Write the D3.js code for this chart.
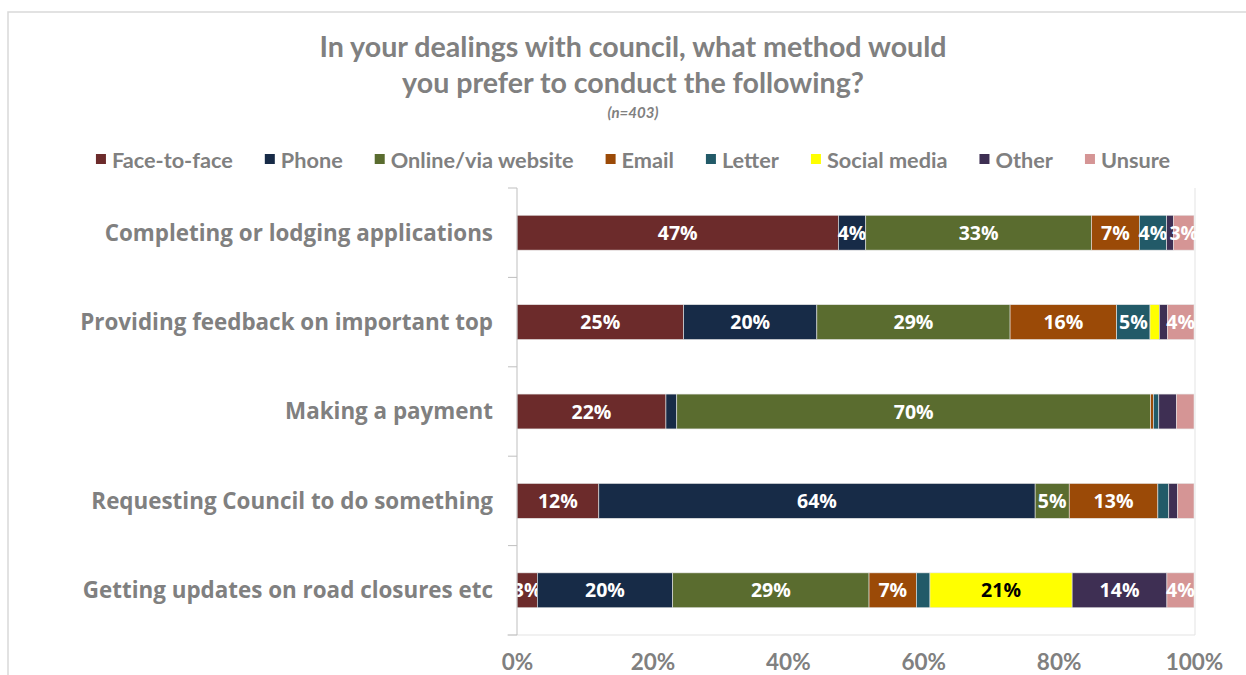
<!DOCTYPE html>
<html>
<head>
<meta charset="utf-8">
<script src="https://cdn.jsdelivr.net/npm/d3@7"></script>
<style>
  html, body { margin: 0; padding: 0; background: #fff; }
  svg { display: block; }
</style>
</head>
<body>
<svg id="chart" width="1246" height="675"></svg>
<script>
// Survey question and sample size
const titleLines = ["In your dealings with council, what method would", "you prefer to conduct the following?"];
const sampleNote = "(n=403)";

// Activities (one bar each)
const categories = [
  "Completing or lodging applications",
  "Providing feedback on important top",
  "Making a payment",
  "Requesting Council to do something",
  "Getting updates on road closures etc"
];

// Preferred method, % of respondents per activity
const seriesNames = ["Face-to-face", "Phone", "Online/via website", "Email", "Letter", "Social media", "Other", "Unsure"];
const faceToFace  = [47, 25, 22,  12,  3];
const phone       = [ 4, 20, 1.6, 64, 20];
const online      = [33, 29, 70,   5, 29];
const email       = [ 7, 16, 0.4, 13,  7];
const letter      = [ 4,  5, 0.8, 1.6, 2];
const socialMedia = [ 0, 1.4, 0,   0, 21];
const other       = [ 1, 1.2, 2.6, 1.3, 14];
const unsure      = [ 3,  4, 2.6, 2.4, 4];
const seriesColors = ["#6c2b2b", "#172b47", "#5a6c2f", "#9b4a07", "#225a68", "#ffff00", "#3e2f53", "#d59595"];

const xTicks = [0, 0.2, 0.4, 0.6, 0.8, 1];

const seriesValues = [faceToFace, phone, online, email, letter, socialMedia, other, unsure];
const rows = categories.map((c, i) => {
  const r = { category: c };
  seriesNames.forEach((s, j) => { r[s] = seriesValues[j][i]; });
  return r;
});

const svg = d3.select("#chart");
const W = 1246, H = 675;
const margin = { left: 517, right: 52, top: 188, bottom: 40 };
const plotBottom = 635;

const grey = "#808080";
const narrowFont = "Lato, 'Liberation Sans', sans-serif";
const wideFont = "'Open Sans', 'DejaVu Sans', sans-serif";

// Outer chart frame
svg.append("path")
  .attr("d", `M8,${H + 2} V12 H${W + 2}`)
  .attr("fill", "none")
  .attr("stroke", "#d9d9d9")
  .attr("stroke-width", 1.5);

// Title
const title = svg.append("text")
  .attr("text-anchor", "middle")
  .attr("font-family", narrowFont)
  .attr("font-weight", "bold")
  .attr("font-size", 28.6)
  .attr("fill", grey);
titleLines.forEach((t, i) => {
  title.append("tspan").attr("x", 633).attr("y", 57 + i * 36).text(t);
});
svg.append("text")
  .attr("x", 633).attr("y", 118)
  .attr("text-anchor", "middle")
  .attr("font-family", narrowFont)
  .attr("font-style", "italic")
  .attr("font-weight", "bold")
  .attr("font-size", 15)
  .attr("fill", grey)
  .text(sampleNote);

// Legend, laid out left to right and centred
const legendGap = 32;
const legend = svg.append("g");
const legendItems = legend.selectAll("g").data(seriesNames).join("g");
legendItems.append("rect")
  .attr("width", 10).attr("height", 10)
  .attr("y", -6)
  .attr("fill", (d, i) => seriesColors[i]);
legendItems.append("text")
  .attr("x", 16).attr("y", 0)
  .attr("dy", "0.35em")
  .attr("font-family", narrowFont)
  .attr("font-weight", "bold")
  .attr("font-size", 21.7)
  .attr("fill", grey)
  .text(d => d);
let lx = 0;
legendItems.each(function () {
  const g = d3.select(this);
  g.attr("transform", `translate(${lx},0)`);
  lx += 16 + g.select("text").node().getComputedTextLength() + legendGap;
});
const legendWidth = lx - legendGap;
legend.attr("transform", `translate(${633 - legendWidth / 2},160)`);

// Scales
const x = d3.scaleLinear().domain([0, 1]).range([margin.left, W - margin.right]);
const y = d3.scaleBand().domain(categories).range([margin.top, plotBottom]).paddingInner(0.61).paddingOuter(0.305);

// Plot area frame (right and bottom)
svg.append("path")
  .attr("d", `M${x(0) - 10},${plotBottom} H${x(1) + 1} V${margin.top}`)
  .attr("fill", "none")
  .attr("stroke", "#e3e3e3")
  .attr("stroke-width", 1);

// 100% stacked bars
const stack = d3.stack().keys(seriesNames).offset(d3.stackOffsetExpand);
const layers = stack(rows);

const layerG = svg.append("g").selectAll("g").data(layers).join("g")
  .attr("fill", (d, i) => seriesColors[i]);
layerG.selectAll("rect").data(d => d.map(p => ({ p, key: d.key, idx: d.index })))
  .join("rect")
  .attr("x", d => x(d.p[0]))
  .attr("width", d => Math.max(0, x(d.p[1]) - x(d.p[0])))
  .attr("y", d => y(d.p.data.category))
  .attr("height", y.bandwidth())
  .attr("stroke", "#e6e6e6")
  .attr("stroke-width", 0.6);

// Value labels for segments of 3% or more
layerG.selectAll("text").data(d => d.map(p => ({ p, key: d.key, idx: d.index })).filter(d => d.p.data[d.key] >= 3))
  .join("text")
  .attr("x", d => (x(d.p[0]) + x(d.p[1])) / 2)
  .attr("y", d => y(d.p.data.category) + y.bandwidth() / 2)
  .attr("dy", "0.36em")
  .attr("text-anchor", "middle")
  .attr("font-family", wideFont)
  .attr("font-weight", "bold")
  .attr("font-size", 19.5)
  .attr("fill", d => d.key === "Social media" ? "#000" : "#fff")
  .text(d => d3.format(".0f")(d.p.data[d.key]) + "%");

// Vertical category axis
const axisG = svg.append("g");
axisG.append("line")
  .attr("x1", x(0)).attr("x2", x(0))
  .attr("y1", margin.top).attr("y2", plotBottom)
  .attr("stroke", "#bfbfbf");
const step = y.step();
const boundaries = d3.range(categories.length + 1).map(i => margin.top + i * step);
axisG.selectAll(".tk").data(boundaries).join("line")
  .attr("x1", x(0) - 9).attr("x2", x(0))
  .attr("y1", d => d).attr("y2", d => d)
  .attr("stroke", "#bfbfbf");
axisG.selectAll(".cat").data(categories).join("text")
  .attr("x", x(0) - 24)
  .attr("y", d => y(d) + y.bandwidth() / 2)
  .attr("dy", "0.35em")
  .attr("text-anchor", "end")
  .attr("font-family", wideFont)
  .attr("font-weight", "bold")
  .attr("font-size", 22.4)
  .attr("fill", grey)
  .text(d => d);

// Horizontal percentage axis labels
const xAxis = d3.axisBottom(x).tickValues(xTicks).tickFormat(d3.format(".0%")).tickSize(0).tickPadding(0);
const xg = svg.append("g").attr("transform", `translate(0,${plotBottom})`).call(xAxis);
xg.select(".domain").remove();
xg.selectAll("text")
  .attr("y", 35)
  .attr("dy", 0)
  .attr("font-family", narrowFont)
  .attr("font-weight", "bold")
  .attr("font-size", 22.5)
  .attr("fill", grey);
</script>
</body>
</html>
